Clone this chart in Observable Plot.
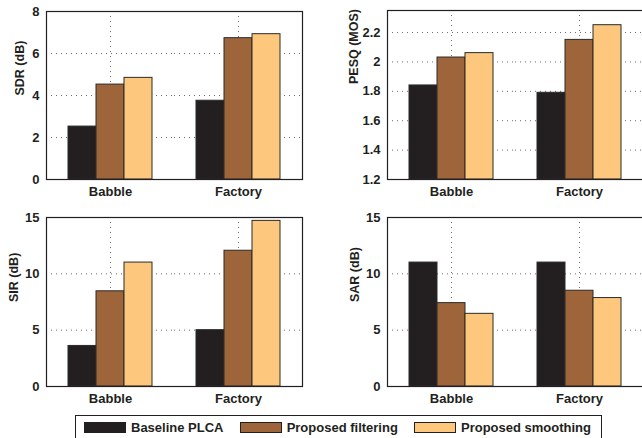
<!DOCTYPE html>
<html>
<head>
<meta charset="utf-8">
<script src="https://cdn.jsdelivr.net/npm/d3@7"></script>
<script src="https://cdn.jsdelivr.net/npm/@observablehq/plot@0.6"></script>
<style>
  html, body { margin: 0; padding: 0; background: #fff; }
  #root { position: relative; width: 642px; height: 438px; overflow: hidden; font-family: "Liberation Sans", Arial, sans-serif; color: #231f20; }
  .panel { position: absolute; }
  #legend { position: absolute; left: 75px; top: 415px; width: 527px; height: 30px; box-sizing: border-box;
    border: 1.2px solid #231f20; display: flex; justify-content: space-between; align-items: center;
    padding: 0 10px 6px 8px; font-weight: bold; font-size: 13px; }
  .item { display: flex; align-items: center; white-space: nowrap; }
  .sw { width: 42px; height: 11px; box-sizing: border-box; border: 1px solid #231f20; margin-right: 5px; }
</style>
</head>
<body>
<div id="root"></div>
<script>
// ---- data ----
const categories = ["Babble", "Factory"];
const series = ["Baseline PLCA", "Proposed filtering", "Proposed smoothing"];
const colors = ["#231f20", "#9d6539", "#fdc87d"];

// values per category, in series order
const sdrValues  = [[2.52, 4.52, 4.84], [3.75, 6.73, 6.92]];
const pesqValues = [[1.84, 2.03, 2.06], [1.79, 2.15, 2.25]];
const sirValues  = [[3.6, 8.45, 11.0], [5.0, 12.05, 14.7]];
const sarValues  = [[11.0, 7.4, 6.45], [11.0, 8.5, 7.85]];

const sdrTicks  = [0, 2, 4, 6, 8];
const pesqTicks = [1.2, 1.4, 1.6, 1.8, 2.0, 2.2];
const sirTicks  = [0, 5, 10, 15];
const sarTicks  = [0, 5, 10, 15];

const sdrDomain  = [0, 8];
const pesqDomain = [1.2, 2.35];
const sirDomain  = [0, 15];
const sarDomain  = [0, 15];

// ---- layout (positions / styles only) ----
const panels = [
  {label: "SDR (dB)",   values: sdrValues,  ticks: sdrTicks,  domain: sdrDomain,  left: 0,   top: 0,   width: 320, mL: 45, mR: 18, mT: 11, mB: 26, labelDx: -27, labelDy: 0},
  {label: "PESQ (MOS)", values: pesqValues, ticks: pesqTicks, domain: pesqDomain, left: 320, top: 0,   width: 340, mL: 66, mR: 17, mT: 10, mB: 26, labelDx: -34, labelDy: -11},
  {label: "SIR (dB)",   values: sirValues,  ticks: sirTicks,  domain: sirDomain,  left: 0,   top: 205, width: 320, mL: 45, mR: 18, mT: 12, mB: 24, labelDx: -33, labelDy: 0},
  {label: "SAR (dB)",   values: sarValues,  ticks: sarTicks,  domain: sarDomain,  left: 320, top: 205, width: 340, mL: 66, mR: 17, mT: 12, mB: 24, labelDx: -33, labelDy: 0}
];

const root = document.getElementById("root");
const gridStyle = {stroke: "#6a6a6a", strokeOpacity: 1, strokeDasharray: "1,4", strokeWidth: 1};

for (const p of panels) {
  const rows = [];
  categories.forEach((c, ci) => series.forEach((s, si) => rows.push({category: c, series: s, value: p.values[ci][si]})));
  const base = p.domain[0];
  const chart = Plot.plot({
    width: p.width,
    height: 205,
    marginLeft: p.mL, marginRight: p.mR, marginTop: p.mT, marginBottom: p.mB,
    style: {fontFamily: '"Liberation Sans", Arial, sans-serif', fontSize: "13px", fontWeight: "bold", color: "#231f20", background: "transparent", overflow: "visible"},
    fx: {domain: categories, paddingInner: 0, paddingOuter: 0},
    x: {domain: series, paddingInner: 0, paddingOuter: 0.741, axis: null},
    y: {domain: p.domain},
    color: {domain: series, range: colors},
    marks: [
      Plot.gridY(p.ticks, {...gridStyle}),
      Plot.gridFx({...gridStyle}),
      Plot.barY(rows, {fx: "category", x: "series", y1: base, y2: "value", fill: "series", stroke: "#2a2a2a", strokeWidth: 1}),
      Plot.axisY(p.ticks, {tickSize: 0, tickPadding: 7, fontSize: 13, fontWeight: "bold", label: null, tickFormat: d => String(+d.toFixed(1))}),
      Plot.axisFx({anchor: "bottom", tickSize: 0, tickPadding: 7.5, fontSize: 13, fontWeight: "bold", label: null}),
      Plot.text([p.label], {text: d => d, frameAnchor: "left", dx: p.labelDx, dy: p.labelDy, rotate: -90, fontSize: 12.5, fontWeight: "bold", facet: "super"}),
      Plot.frame({stroke: "#231f20", strokeWidth: 1.2, facet: "super"})
    ]
  });
  chart.classList.add("panel");
  chart.style.left = p.left + "px";
  chart.style.top = p.top + "px";
  root.appendChild(chart);
}

// ---- legend ----
const legend = document.createElement("div");
legend.id = "legend";
series.forEach((s, i) => {
  const item = document.createElement("div");
  item.className = "item";
  const sw = document.createElement("span");
  sw.className = "sw";
  sw.style.background = colors[i];
  const t = document.createElement("span");
  t.textContent = s;
  item.appendChild(sw);
  item.appendChild(t);
  legend.appendChild(item);
});
root.appendChild(legend);
</script>
</body>
</html>
